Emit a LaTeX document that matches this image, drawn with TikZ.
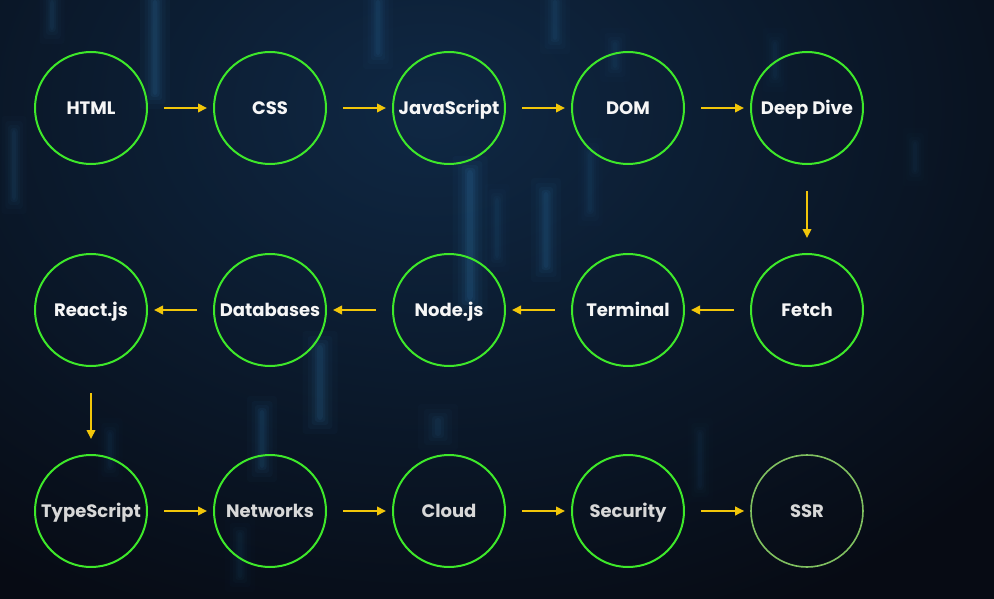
\documentclass[tikz,border=0pt]{standalone}
\usepackage{fontspec}
\setmainfont{Poppins}
\usetikzlibrary{arrows.meta}

\definecolor{bgdark}{HTML}{070B14}
\definecolor{bgtop}{HTML}{0F2844}
\definecolor{streak}{HTML}{2C6C9C}
\definecolor{ringgreen}{RGB}{62,232,42}
\definecolor{ringpale}{RGB}{128,192,96}
\definecolor{arrowyellow}{RGB}{242,198,10}
\definecolor{textwhite}{HTML}{F6F6F6}
\definecolor{textgrey}{HTML}{D8D8D8}

\tikzset{
  topic/.style={circle, draw=ringgreen, line width=2pt, minimum size=112pt,
    inner sep=0pt, text height=16.6pt, text depth=4pt, text=textwhite,
    font=\fontsize{18}{20}\selectfont\bfseries},
  latertopic/.style={topic, text=textgrey},
  lasttopic/.style={topic, draw=ringpale, line width=1.6pt, text=textgrey},
  flow/.style={draw=arrowyellow, line width=2pt,
    -{Triangle[length=9pt,width=8.5pt]}},
  across/.style={flow, shorten <=16pt, shorten >=6pt},
  down/.style={flow, shorten <=26pt, shorten >=15pt},
}

% soft vertical light streak: (x, top, bottom, width, strength)
\newcommand{\glowbar}[5]{%
  \foreach \w/\o/\e in {5/0.05/14, 3.5/0.07/9, 2.4/0.09/5, 1.5/0.12/2, 0.8/0.13/0}{%
    \fill[streak, opacity=#5*\o, rounded corners=3pt]
      ({#1-#4*\w/2}, {#2-\e}) rectangle ({#1+#4*\w/2}, {#3+\e});
  }%
}

\begin{document}
\begin{tikzpicture}[x=1pt, y=-1pt]
  % backdrop
  \useasboundingbox (0,0) rectangle (994,599);
  \fill[bgdark] (0,0) rectangle (994,599);
  \begin{scope}
    \clip (0,0) rectangle (994,599);
    \shade[inner color=bgtop, outer color=bgdark] (430,110) ellipse (760pt and 560pt);
  \end{scope}

  % blurred light streaks
  \glowbar{155}{0}{95}{6}{1.0}
  \glowbar{52}{0}{30}{5}{0.6}
  \glowbar{378}{0}{55}{6}{0.8}
  \glowbar{555}{0}{40}{6}{0.7}
  \glowbar{470}{170}{300}{7}{1.1}
  \glowbar{546}{192}{268}{6}{0.9}
  \glowbar{320}{345}{420}{7}{0.9}
  \glowbar{262}{410}{468}{6}{0.8}
  \glowbar{14}{130}{200}{5}{0.6}
  \glowbar{590}{152}{212}{5}{0.5}
  \glowbar{438}{418}{436}{8}{0.6}
  \glowbar{497}{198}{258}{5}{0.5}
  \glowbar{775}{42}{78}{5}{0.4}
  \glowbar{915}{142}{172}{5}{0.35}
  \glowbar{700}{432}{488}{5}{0.35}
  \glowbar{110}{432}{468}{5}{0.4}
  \glowbar{240}{532}{578}{6}{0.4}
  \glowbar{615}{42}{68}{6}{0.5}

  % row 1
  \node[topic] (html) at (91,108) {HTML};
  \node[topic] (css) at (270,108) {CSS};
  \node[topic] (js) at (449,108) {JavaScript};
  \node[topic] (dom) at (628,108) {DOM};
  \node[topic] (deep) at (807,108) {Deep Dive};

  % row 2
  \node[topic] (fetch) at (807,310) {Fetch};
  \node[topic] (term) at (628,310) {Terminal};
  \node[topic] (node) at (449,310) {Node.js};
  \node[topic] (db) at (270,310) {Databases};
  \node[topic] (react) at (91,310) {React.js};

  % row 3
  \node[latertopic] (ts) at (91,511) {TypeScript};
  \node[latertopic] (net) at (270,511) {Networks};
  \node[latertopic] (cloud) at (449,511) {Cloud};
  \node[latertopic] (sec) at (628,511) {Security};
  \node[lasttopic] (ssr) at (807,511) {SSR};

  % path through the topics
  \draw[across] (html) -- (css);
  \draw[across] (css) -- (js);
  \draw[across] (js) -- (dom);
  \draw[across] (dom) -- (deep);
  \draw[down] (deep) -- (fetch);
  \draw[across] (fetch) -- (term);
  \draw[across] (term) -- (node);
  \draw[across] (node) -- (db);
  \draw[across] (db) -- (react);
  \draw[down] (react) -- (ts);
  \draw[across] (ts) -- (net);
  \draw[across] (net) -- (cloud);
  \draw[across] (cloud) -- (sec);
  \draw[across] (sec) -- (ssr);
\end{tikzpicture}
\end{document}
